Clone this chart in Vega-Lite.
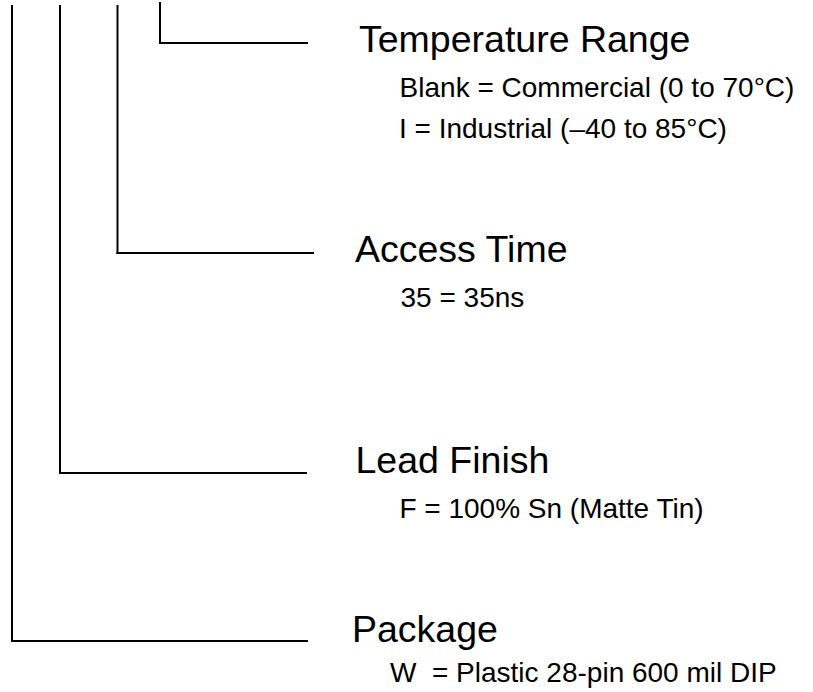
{
  "$schema": "https://vega.github.io/schema/vega-lite/v6.json",
  "width": 813,
  "height": 692,
  "padding": 0,
  "autosize": {"type": "none"},
  "background": "white",
  "config": {"view": {"stroke": null}},
  "datasets": {
    "segments": [
      {"x": 12, "y": 6, "x_end": 12, "y_end": 641},
      {"x": 12, "y": 641, "x_end": 307, "y_end": 641},
      {"x": 60, "y": 6, "x_end": 60, "y_end": 473},
      {"x": 60, "y": 473, "x_end": 306, "y_end": 473},
      {"x": 117.5, "y": 6, "x_end": 117.5, "y_end": 253},
      {"x": 117.5, "y": 253, "x_end": 313, "y_end": 253},
      {"x": 160, "y": 3, "x_end": 160, "y_end": 43},
      {"x": 160, "y": 43, "x_end": 307, "y_end": 43}
    ],
    "labels": [
      {"level": "heading", "x": 359, "y": 52, "label": "Temperature Range"},
      {"level": "item", "x": 399.6, "y": 97, "label": "Blank = Commercial (0 to 70°C)"},
      {"level": "item", "x": 399, "y": 138, "label": "I = Industrial (–40 to 85°C)"},
      {"level": "heading", "x": 355, "y": 262, "label": "Access Time"},
      {"level": "item", "x": 400.5, "y": 307, "label": "35 = 35ns"},
      {"level": "heading", "x": 355.5, "y": 473, "label": "Lead Finish"},
      {"level": "item", "x": 399.4, "y": 518, "label": "F = 100% Sn (Matte Tin)"},
      {"level": "heading", "x": 352, "y": 642, "label": "Package"},
      {"level": "item", "x": 390, "y": 682, "label": "W \u00a0= Plastic 28-pin 600 mil DIP"}
    ]
  },
  "layer": [
    {
      "data": {"name": "segments"},
      "mark": {"type": "rule", "strokeWidth": 2, "color": "black", "strokeCap": "square"},
      "encoding": {
        "x": {"field": "x", "type": "quantitative", "scale": {"domain": [0, 813], "nice": false, "zero": false}, "axis": null},
        "y": {"field": "y", "type": "quantitative", "scale": {"domain": [0, 692], "nice": false, "zero": false, "reverse": true}, "axis": null},
        "x2": {"field": "x_end"},
        "y2": {"field": "y_end"}
      }
    },
    {
      "data": {"name": "labels"},
      "transform": [{"filter": "datum.level == 'heading'"}],
      "mark": {"type": "text", "align": "left", "baseline": "alphabetic", "font": "Liberation Sans", "fontSize": 37.5, "color": "black"},
      "encoding": {
        "x": {"field": "x", "type": "quantitative"},
        "y": {"field": "y", "type": "quantitative"},
        "text": {"field": "label", "type": "nominal"}
      }
    },
    {
      "data": {"name": "labels"},
      "transform": [{"filter": "datum.level == 'item'"}],
      "mark": {"type": "text", "align": "left", "baseline": "alphabetic", "font": "Liberation Sans", "fontSize": 28, "color": "black"},
      "encoding": {
        "x": {"field": "x", "type": "quantitative"},
        "y": {"field": "y", "type": "quantitative"},
        "text": {"field": "label", "type": "nominal"}
      }
    }
  ]
}
